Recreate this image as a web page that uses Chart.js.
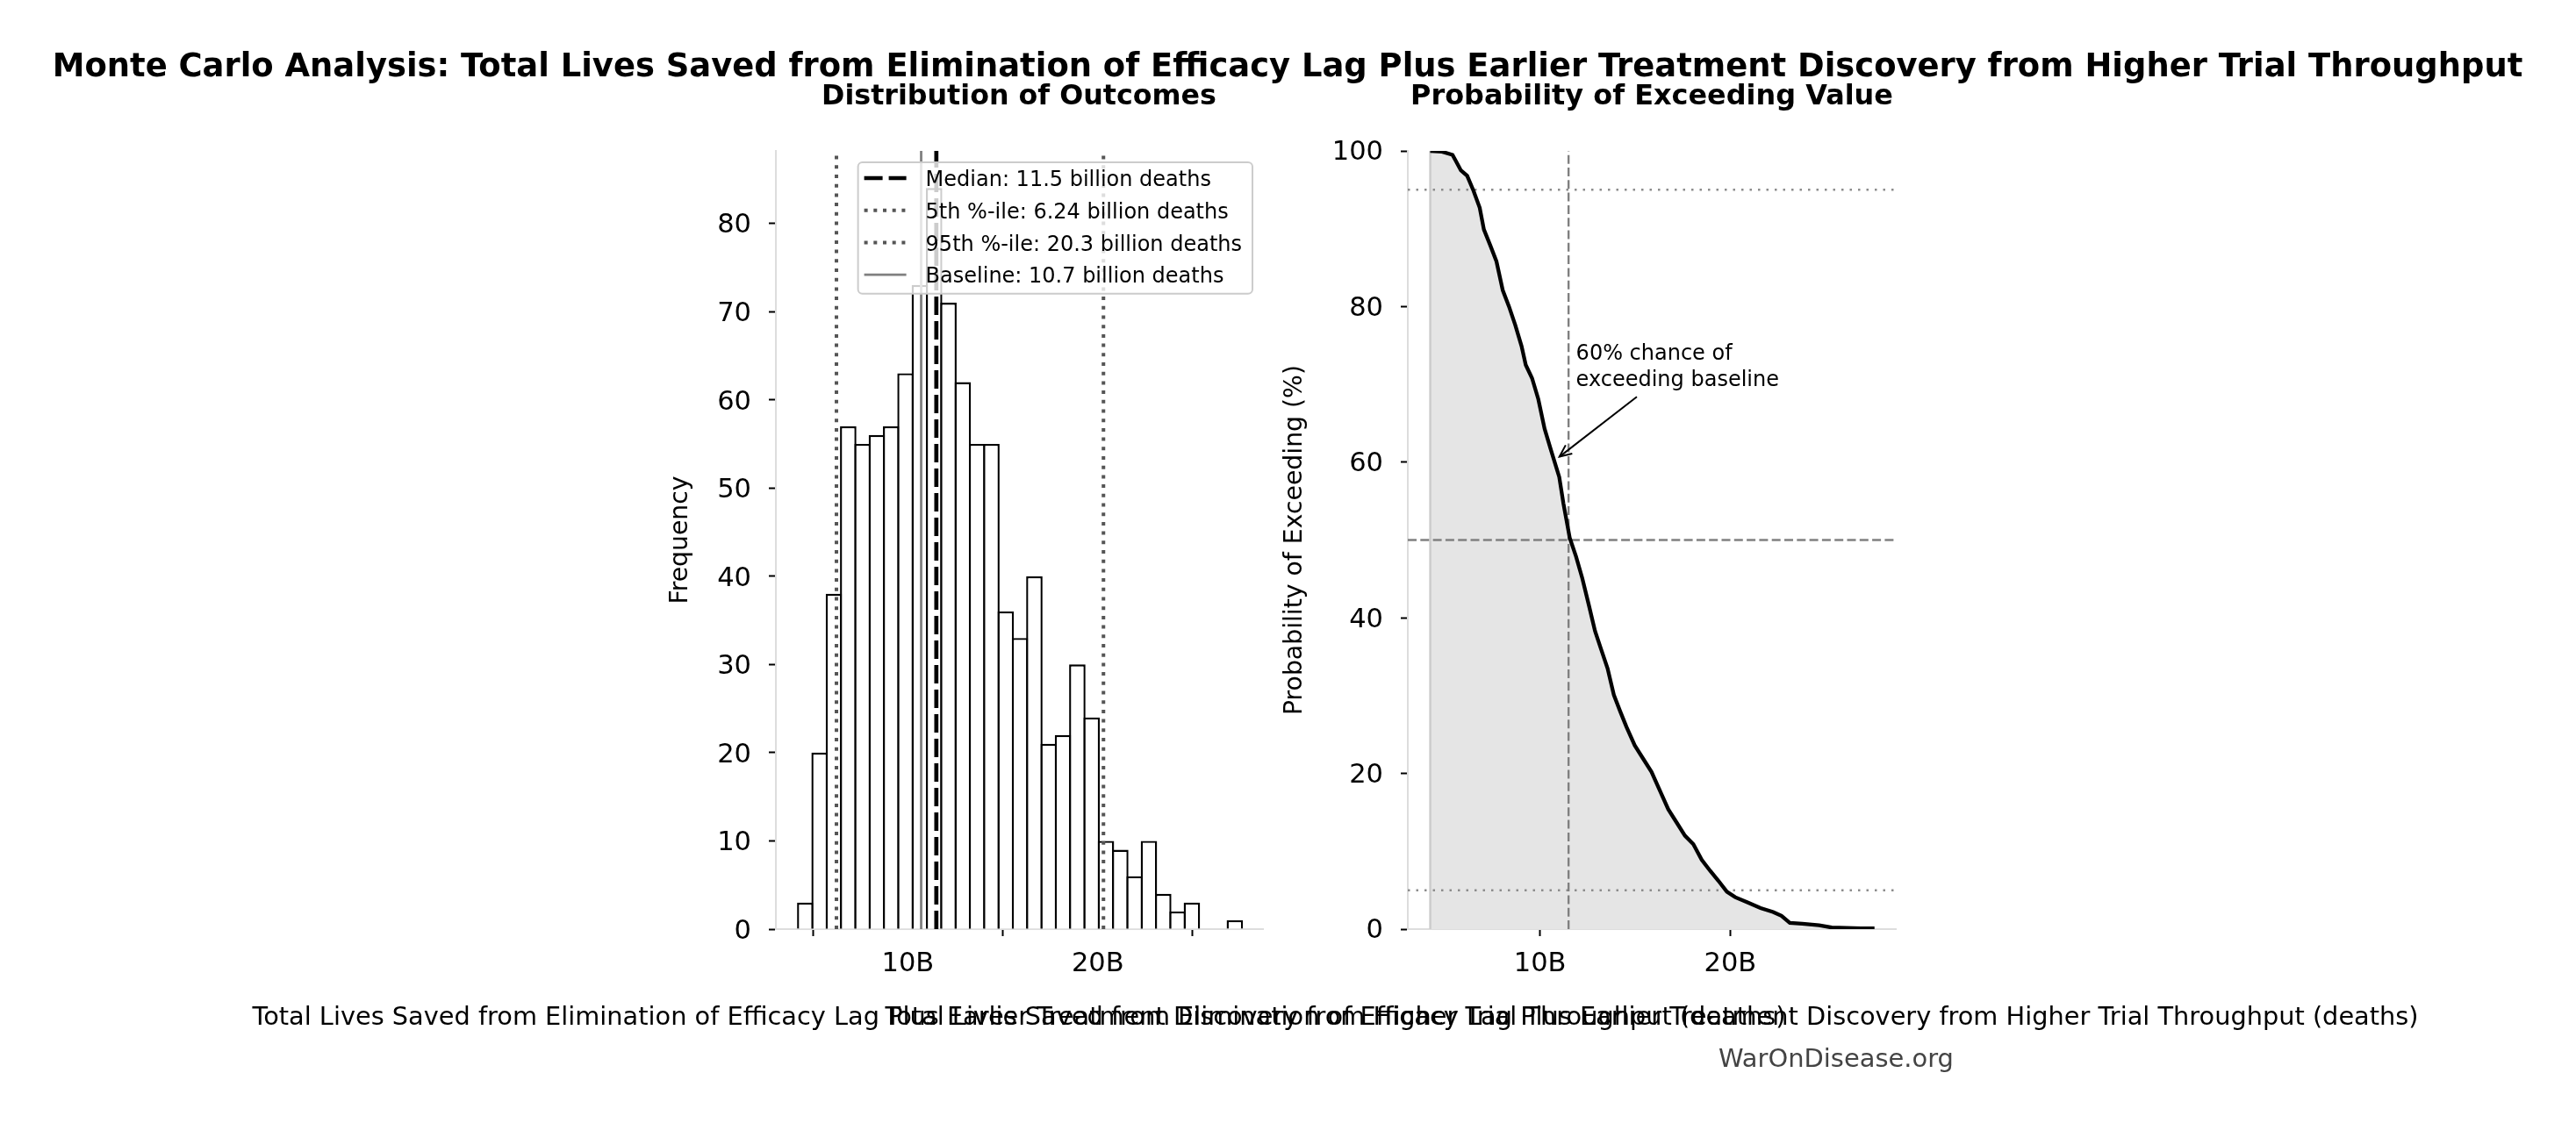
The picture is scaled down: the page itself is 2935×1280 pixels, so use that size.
<!DOCTYPE html>
<html>
<head>
<meta charset="utf-8">
<script src="https://cdn.jsdelivr.net/npm/chart.js@4.4.1/dist/chart.umd.min.js"></script>
<style>
  html, body { margin: 0; padding: 0; background: #fff; }
  body { width: 2935px; height: 1280px; position: relative; overflow: hidden; font-family: 'DejaVu Sans', sans-serif; }
  canvas { position: absolute; left: 0; top: 0; }
  .txt { position: absolute; transform: translate(-50%, -50%); white-space: nowrap; line-height: 1; color: #000; }
  .bold { font-weight: bold; }
</style>
</head>
<body>
<canvas id="hist" width="2935" height="1280"></canvas>
<canvas id="exceed" width="2935" height="1280"></canvas>

<div id="title" class="txt bold" style="left:1467px;top:75px">Monte Carlo Analysis: Total Lives Saved from Elimination of Efficacy Lag Plus Earlier Treatment Discovery from Higher Trial Throughput</div>
<div id="sub1" class="txt bold" style="left:1161px;top:109px">Distribution of Outcomes</div>
<div id="sub2" class="txt bold" style="left:1882px;top:109px">Probability of Exceeding Value</div>
<div id="xlab1" class="txt" style="left:1161px;top:1158px">Total Lives Saved from Elimination of Efficacy Lag Plus Earlier Treatment Discovery from Higher Trial Throughput (deaths)</div>
<div id="xlab2" class="txt" style="left:1882px;top:1158px">Total Lives Saved from Elimination of Efficacy Lag Plus Earlier Treatment Discovery from Higher Trial Throughput (deaths)</div>
<div id="mark" class="txt" style="left:2092px;top:1206px;color:#444">WarOnDisease.org</div>

<script>
// histogram counts, one per bin
const histCounts = [3, 20, 38, 57, 55, 56, 57, 63, 73, 84, 71, 62, 55, 55, 36, 33,
                    40, 21, 22, 30, 24, 10, 9, 6, 10, 4, 2, 3, 0, 0, 1];
const binStart = 4.22;   // billions
const binWidth = 0.754;

// reference values (billions)
const refLabels = ["Median: 11.5 billion deaths", "5th %-ile: 6.24 billion deaths",
                   "95th %-ile: 20.3 billion deaths", "Baseline: 10.7 billion deaths"];
const refValues = [11.5, 6.24, 20.3, 10.7];

// exceedance curve (x in billions, y in %)
const exceedX = [4.23, 4.85, 5.40, 5.62, 5.84, 6.17, 6.50, 6.83, 7.05, 7.38, 7.71, 8.04, 8.37, 8.70,
                 9.03, 9.25, 9.58, 9.91, 10.24, 10.57, 11.01, 11.23, 11.56, 11.89, 12.22, 12.56, 12.89,
                 13.22, 13.55, 13.88, 14.21, 14.54, 14.98, 15.42, 15.86, 16.30, 16.74, 17.18, 17.62,
                 18.06, 18.50, 18.94, 19.38, 19.82, 20.26, 20.93, 21.59, 22.25, 22.69, 23.13, 23.79,
                 24.67, 25.33, 26.87, 27.58];
const exceedPct = [100, 99.9, 99.5, 98.5, 97.5, 96.8, 94.9, 92.7, 89.9, 87.9, 85.8, 82.1, 80.0, 77.6,
                   74.9, 72.5, 70.8, 68.1, 64.3, 61.6, 58.1, 54.7, 50.3, 47.9, 45.1, 41.7, 38.3,
                   35.9, 33.5, 30.1, 28.0, 26.0, 23.6, 21.9, 20.2, 17.8, 15.4, 13.7, 12.0,
                   10.9, 8.9, 7.5, 6.2, 4.8, 4.1, 3.4, 2.7, 2.2, 1.7, 0.8, 0.7,
                   0.5, 0.2, 0.1, 0.1];
const dottedLevels = [95, 5];
const medianLevel = 50;

// axes
const xLimits = [3.05, 28.7];
const xTicks = [10, 20];
const xTickLabels = ["10B", "20B"];
const histYMax = 88.2;
const histYTicks = [0, 10, 20, 30, 40, 50, 60, 70, 80];
const exceedYTicks = [0, 20, 40, 60, 80, 100];

// annotation
const annotLines = ["60% chance of", "exceeding baseline"];
const annotAt = [11.89, 74.3];
const arrowFrom = [15.09, 68.4];
const arrowTo = [11.02, 60.7];

Chart.defaults.font.family = "'DejaVu Sans', sans-serif";
Chart.defaults.color = "#000";

// size text to the width it takes in the picture
function fitText(id, width) {
  const el = document.getElementById(id);
  const c = document.createElement("canvas").getContext("2d");
  c.font = (el.classList.contains("bold") ? "bold " : "") + "100px 'DejaVu Sans'";
  el.style.fontSize = (100 * width / c.measureText(el.textContent).width) + "px";
}
fitText("title", 2816);
fitText("sub1", 450);
fitText("sub2", 550);
fitText("xlab1", 1748);
fitText("xlab2", 1748);
fitText("mark", 268);

const tickFont = { size: 30.5 };
const gridStyle = { display: true, drawOnChartArea: false, drawTicks: true, tickLength: 8, tickWidth: 2, tickColor: "#000" };
const borderStyle = { display: true, color: "#dddddd", width: 2 };

const xAxis = () => ({
  type: "linear",
  min: xLimits[0],
  max: xLimits[1],
  offset: false,
  afterBuildTicks: s => { s.ticks = xTicks.map(v => ({ value: v })); },
  afterFit: s => { s.height = 60; },
  ticks: { font: tickFont, padding: 14, maxRotation: 0, autoSkip: false, callback: (v, i) => xTickLabels[i] },
  grid: gridStyle,
  border: borderStyle
});

const vline = (x, y0, y1, label, color, width, dash, order) => ({
  type: "line", label, data: [{ x, y: y0 }, { x, y: y1 }],
  borderColor: color, borderWidth: width, borderDash: dash, pointRadius: 0, fill: false, order, inLegend: true
});

// legend drawn inside the axes, upper right
const legendBox = {
  id: "legendBox",
  afterDraw(chart) {
    const ctx = chart.ctx, a = chart.chartArea;
    const items = chart.data.datasets.filter(d => d.inLegend);
    ctx.save();
    ctx.font = "24px 'DejaVu Sans'";
    const textW = Math.max(...items.map(d => ctx.measureText(d.label).width));
    const rowH = 36.7;
    const w = 77 + textW + 12, h = items.length * rowH + 3;
    const x = a.right - 12 - w, y = a.top + 13;
    ctx.beginPath();
    ctx.roundRect(x, y, w, h, 5);
    ctx.fillStyle = "rgba(255,255,255,0.8)";
    ctx.fill();
    ctx.strokeStyle = "#cccccc";
    ctx.lineWidth = 2;
    ctx.stroke();
    items.forEach((d, i) => {
      const cy = y + 18 + i * rowH;
      ctx.beginPath();
      ctx.setLineDash(d.borderDash || []);
      ctx.strokeStyle = d.borderColor;
      ctx.lineWidth = d.borderWidth;
      ctx.moveTo(x + 7, cy);
      ctx.lineTo(x + 55, cy);
      ctx.stroke();
      ctx.setLineDash([]);
      ctx.fillStyle = "#000";
      ctx.textBaseline = "middle";
      ctx.fillText(d.label, x + 77, cy + 3);
    });
    ctx.restore();
  }
};

const histChart = new Chart(document.getElementById("hist"), {
  type: "bar",
  plugins: [legendBox],
  data: {
    datasets: [
      {
        type: "bar",
        data: histCounts.map((c, i) => ({ x: binStart + binWidth * (i + 0.5), y: c })),
        backgroundColor: "#ffffff",
        borderColor: "#000000",
        borderWidth: 2.4,
        barPercentage: 1.145,
        categoryPercentage: 1,
        grouped: false,
        order: 10
      },
      vline(refValues[0], 0, histYMax, refLabels[0], "#000000", 4.7, [21, 7], 4),
      vline(refValues[1], 0, histYMax, refLabels[1], "#555555", 4, [4, 6.7], 3),
      vline(refValues[2], 0, histYMax, refLabels[2], "#555555", 4, [4, 6.7], 2),
      vline(refValues[3], 0, histYMax, refLabels[3], "#808080", 2.8, [], 1)
    ]
  },
  options: {
    responsive: false,
    devicePixelRatio: 1,
    animation: false,
    events: [],
    layout: { padding: { left: 740, top: 172, right: 1496, bottom: 161 } },
    plugins: { legend: { display: false }, tooltip: { enabled: false } },
    scales: {
      x: xAxis(),
      y: {
        min: 0,
        max: histYMax,
        afterBuildTicks: s => { s.ticks = histYTicks.map(v => ({ value: v })); },
        afterFit: s => { s.width = 144; },
        ticks: { font: tickFont, padding: 20, labelOffset: 3 },
        title: { display: true, text: "Frequency", font: { size: 28.3 }, padding: { top: 19, bottom: 0 } },
        grid: gridStyle,
        border: borderStyle
      }
    }
  }
});

// arrow and text pointing at the curve
const annotate = {
  id: "annotate",
  afterDatasetsDraw(chart) {
    const { ctx, scales: { x, y } } = chart;
    const x0 = x.getPixelForValue(arrowFrom[0]), y0 = y.getPixelForValue(arrowFrom[1]);
    const x1 = x.getPixelForValue(arrowTo[0]), y1 = y.getPixelForValue(arrowTo[1]);
    ctx.save();
    ctx.strokeStyle = "#000";
    ctx.lineWidth = 2;
    ctx.beginPath();
    ctx.moveTo(x0, y0);
    ctx.lineTo(x1, y1);
    ctx.stroke();
    const ang = Math.atan2(y1 - y0, x1 - x0), hl = 15, ha = 0.42;
    ctx.beginPath();
    ctx.moveTo(x1 - hl * Math.cos(ang - ha), y1 - hl * Math.sin(ang - ha));
    ctx.lineTo(x1, y1);
    ctx.lineTo(x1 - hl * Math.cos(ang + ha), y1 - hl * Math.sin(ang + ha));
    ctx.stroke();
    ctx.font = "24px 'DejaVu Sans'";
    ctx.fillStyle = "#000";
    ctx.textBaseline = "middle";
    const tx = x.getPixelForValue(annotAt[0]), ty = y.getPixelForValue(annotAt[1]) + 4;
    annotLines.forEach((t, i) => ctx.fillText(t, tx, ty + i * 30));
    ctx.restore();
  }
};

const hline = (level, color, width, dash, order) => ({
  data: [{ x: xLimits[0], y: level }, { x: xLimits[1], y: level }],
  borderColor: color, borderWidth: width, borderDash: dash, pointRadius: 0, fill: false, order
});

const curvePoints = exceedX.map((x, i) => ({ x, y: exceedPct[i] }));

const exceedChart = new Chart(document.getElementById("exceed"), {
  type: "line",
  plugins: [annotate],
  data: {
    datasets: [
      {
        // shaded area under the curve
        data: curvePoints,
        borderWidth: 0,
        backgroundColor: "#e5e5e5",
        fill: "origin",
        pointRadius: 0,
        order: 8
      },
      {
        data: [{ x: exceedX[0], y: 0 }, { x: exceedX[0], y: 100 }],
        borderColor: "#cccccc", borderWidth: 2.5, pointRadius: 0, fill: false, order: 7
      },
      hline(dottedLevels[0], "#8c8c8c", 2.5, [2.5, 7], 4),
      hline(dottedLevels[1], "#8c8c8c", 2.5, [2.5, 7], 4),
      hline(medianLevel, "#808080", 2.4, [10, 4.3], 3),
      {
        data: [{ x: refValues[0], y: 0 }, { x: refValues[0], y: 100 }],
        borderColor: "#808080", borderWidth: 2.4, borderDash: [10, 4.3], pointRadius: 0, fill: false, order: 2
      },
      {
        // the curve itself, on top of the reference lines
        data: curvePoints,
        borderColor: "#000000",
        borderWidth: 4.3,
        fill: false,
        pointRadius: 0,
        tension: 0,
        order: 0
      }
    ]
  },
  options: {
    responsive: false,
    devicePixelRatio: 1,
    animation: false,
    events: [],
    layout: { padding: { left: 1440, top: 172, right: 775, bottom: 161 } },
    plugins: { legend: { display: false }, tooltip: { enabled: false } },
    scales: {
      x: xAxis(),
      y: {
        min: 0,
        max: 100,
        afterBuildTicks: s => { s.ticks = exceedYTicks.map(v => ({ value: v })); },
        afterFit: s => { s.width = 164; },
        ticks: { font: tickFont, padding: 20, labelOffset: 2.5 },
        title: { display: true, text: "Probability of Exceeding (%)", font: { size: 28.3 }, padding: { top: 19, bottom: 0 } },
        grid: gridStyle,
        border: borderStyle
      }
    }
  }
});
</script>
</body>
</html>
